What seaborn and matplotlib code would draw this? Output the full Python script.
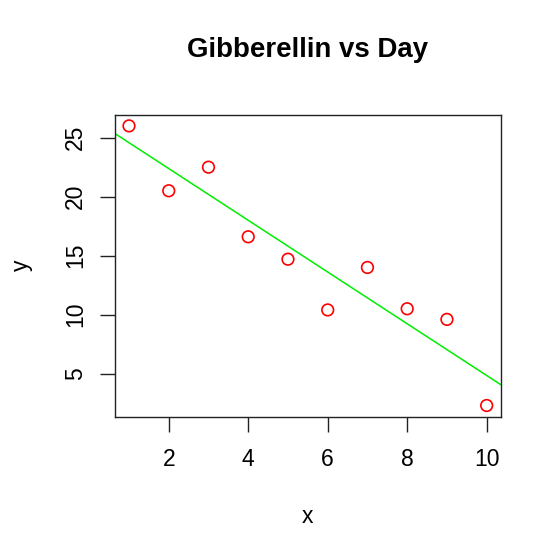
import numpy as np
import pandas as pd
import matplotlib
matplotlib.use('Agg')
import matplotlib.pyplot as plt
import seaborn as sns

# data
day = [1, 2, 3, 4, 5, 6, 7, 8, 9, 10]
gibberellin = [26.0, 20.5, 22.5, 16.6, 14.7, 10.4, 14.0, 10.5, 9.6, 2.3]
xticks = [2, 4, 6, 8, 10]
yticks = [5, 10, 15, 20, 25]

df = pd.DataFrame({'x': day, 'y': gibberellin})

sns.set_style('white')
plt.rcParams['font.family'] = ['Liberation Sans', 'DejaVu Sans']
plt.rcParams['text.color'] = 'black'
plt.rcParams['axes.labelcolor'] = 'black'
plt.rcParams['xtick.color'] = 'black'
plt.rcParams['ytick.color'] = 'black'

fig = plt.figure(figsize=(5.6, 5.6), dpi=100)
ax = fig.add_axes([0.2048, 0.2559, 0.6898, 0.5393])

# R style 4% expansion of the data range
xr = max(day) - min(day)
yr = max(gibberellin) - min(gibberellin)
xlim = (min(day) - 0.04 * xr, max(day) + 0.04 * xr)
ylim = (min(gibberellin) - 0.04 * yr, max(gibberellin) + 0.04 * yr)
ax.set_xlim(xlim)
ax.set_ylim(ylim)

sns.regplot(data=df, x='x', y='y', ax=ax, scatter=False, ci=None, truncate=False,
            line_kws={'color': '#00ee00', 'lw': 1.1})
sns.scatterplot(data=df, x='x', y='y', ax=ax, marker='o', s=70,
                facecolor='none', edgecolor='red', linewidth=1.2, zorder=3)

ax.set_xlim(xlim)
ax.set_ylim(ylim)
ax.set_xticks(xticks)
ax.set_yticks(yticks)
ax.tick_params(axis='both', direction='out', length=10.8, width=1, color='#222222',
               labelsize=16.5, labelcolor='black', bottom=True, left=True)
ax.tick_params(axis='x', pad=12)
ax.tick_params(axis='y', pad=9)
for lab in ax.get_yticklabels():
    lab.set_rotation(90)
    lab.set_va('center')

for sp in ax.spines.values():
    sp.set_visible(True)
    sp.set_color('#222222')
    sp.set_linewidth(1)

ax.set_xlabel('x', fontsize=16.5, color='black')
ax.set_ylabel('y', fontsize=16.5, color='black')
ax.xaxis.set_label_coords(0.5, -0.332)
ax.yaxis.set_label_coords(-0.2426, 0.5)
ax.xaxis.label.set_va('center')
ax.yaxis.label.set_va('center')
ax.set_title('Gibberellin vs Day', fontsize=19.9, fontweight='bold', color='black',
             y=1.188, va='center')

fig.savefig('out.png', dpi=100)
